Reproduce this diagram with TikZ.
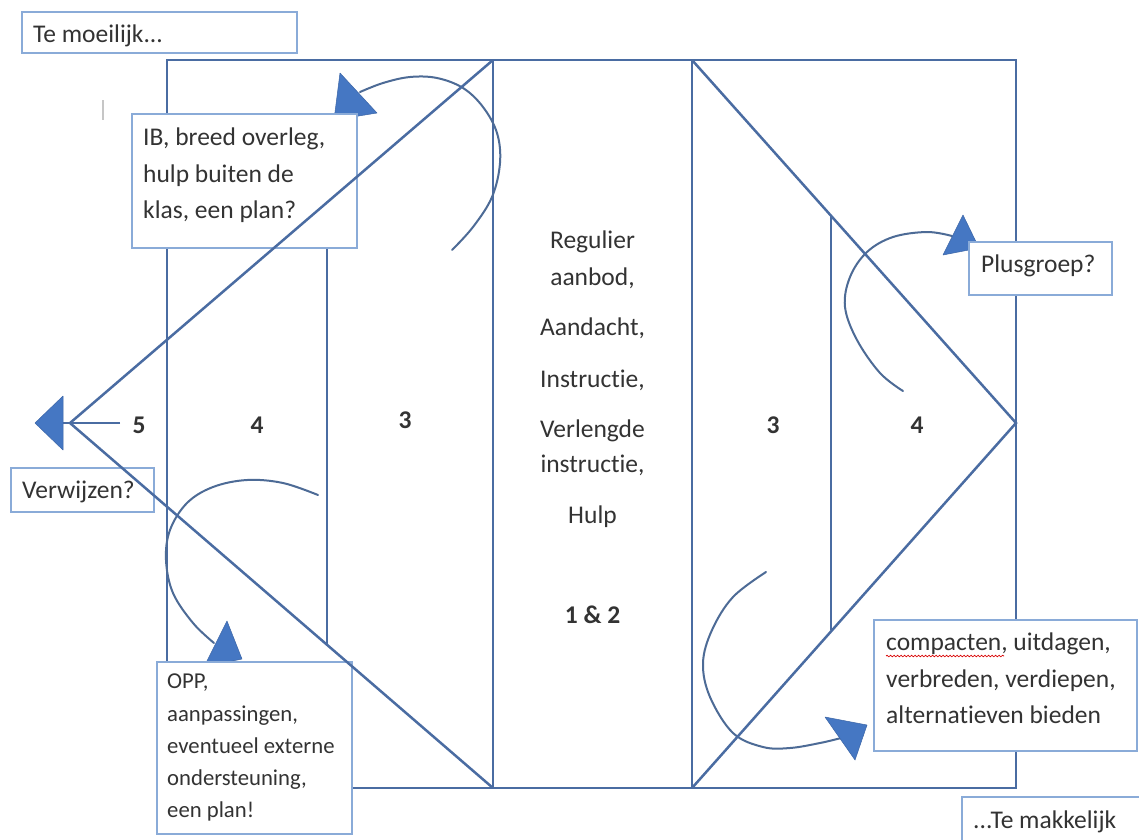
\documentclass[tikz,border=0pt]{standalone}
\usepackage{fontspec}
\setmainfont{Carlito}[Ligatures={NoCommon,NoRare}]
\usetikzlibrary{decorations.pathmorphing}
\definecolor{framec}{HTML}{4A6CA2}
\definecolor{boxc}{HTML}{8AABD8}
\definecolor{arcc}{HTML}{4D6B96}
\definecolor{headc}{HTML}{4577C3}
\definecolor{txtc}{HTML}{333333}
\begin{document}
\begin{tikzpicture}[x=1pt,y=-1pt,
  frameline/.style={draw=framec, line width=2.7pt},
  diag/.style={draw=framec, line width=2.5pt, line join=miter},
  boxstyle/.style={draw=boxc, line width=1.8pt, fill=white},
  curvestyle/.style={draw=arcc, line width=2pt, line cap=round},
  headstyle/.style={fill=headc, draw=headc!85!black, line width=0.5pt, line join=round},
  txt/.style={text=txtc, font=\fontsize{25.5}{30}\selectfont, inner sep=0pt, anchor=base west},
  smalltxt/.style={text=txtc, font=\fontsize{22.7}{27}\selectfont, inner sep=0pt, anchor=base west},
  midtxt/.style={text=txtc, font=\fontsize{25.5}{30}\selectfont, inner sep=0pt, anchor=base},
  numtxt/.style={text=txtc, font=\fontsize{25.5}{30}\selectfont\bfseries, inner sep=0pt, anchor=base}
]
\useasboundingbox (0,0) rectangle (1139,839);
\fill[white] (0,0) rectangle (1139,839);

% key points
\coordinate (TL) at (167,60);
\coordinate (BR) at (1016,788);
\coordinate (MLt) at (493,60);
\coordinate (MLb) at (493,788);
\coordinate (MRt) at (692,60);
\coordinate (MRb) at (692,788);
\coordinate (LA) at (70,423);
\coordinate (RA) at (1016,423);
\coordinate (L4t) at (327,203);
\coordinate (L4b) at (327,644);
\coordinate (R4t) at (831,216);
\coordinate (R4b) at (831,630);
\coordinate (Hend) at (120,423);
\coordinate (Hbase) at (63,423);

% frame and columns
\draw[frameline] (TL) rectangle (BR);
\draw[frameline] (MLt) -- (MLb);
\draw[frameline] (MRt) -- (MRb);
\draw[frameline] (L4t) -- (L4b);
\draw[frameline] (R4t) -- (R4b);

% cursor tick
\draw[gray!45, line width=1.5pt] (103,100) -- (103,120);

% curved arrows
\draw[curvestyle] plot[smooth, tension=0.6] coordinates {(452,250) (473,227) (492,197) (500,163) (497,133) (483,107) (463,88) (437,78) (410,77) (383,83) (360,92)};
\fill[headstyle] (340,73) -- (377,113) -- (334,120) -- cycle;

\draw[curvestyle] plot[smooth, tension=0.6] coordinates {(318,495) (283,483) (247,480) (213,487) (187,503) (170,530) (166,560) (173,593) (193,623) (214,643)};
\fill[headstyle] (227,621) -- (242,659) -- (204,667) -- cycle;

\draw[curvestyle] plot[smooth, tension=0.6] coordinates {(903,391) (880,373) (857,340) (845,307) (850,277) (867,252) (893,237) (927,232) (952,236)};
\fill[headstyle] (963,215) -- (979,248) -- (943,255) -- cycle;

\draw[curvestyle] plot[smooth, tension=0.6] coordinates {(766,572) (733,597) (712,630) (703,663) (710,697) (733,733) (763,747) (790,748) (820,743) (841,738)};
\fill[headstyle] (825,717) -- (867,725) -- (855,760) -- cycle;

% boxes
\draw[boxstyle] (22,12) rectangle (297,53);
\draw[boxstyle] (132,114) rectangle (357,248);
\draw[boxstyle] (11,468) rectangle (154,512);
\draw[boxstyle] (157,662) rectangle (352,834);
\draw[boxstyle] (969,242) rectangle (1112,295);
\draw[boxstyle] (874,620) rectangle (1137,751);
\draw[boxstyle] (962,797) rectangle (1145,845);

% diagonals
\draw[diag] (MLt) -- (LA) -- (MLb);
\draw[diag] (MRt) -- (RA) -- (MRb);
\draw[diag] (Hend) -- (Hbase);
\fill[headstyle] (35,423) -- (63,396) -- (63,450) -- cycle;

% texts
\node[txt] (tm) at (33,42) {Te moeilijk...};
\node[txt] (ib1) at (143,145) {IB, breed overleg,};
\node[txt] (ib2) at (143,182) {hulp buiten de};
\node[txt] (ib3) at (143,218) {klas, een plan?};
\node[txt] (vw) at (22,498) {Verwijzen?};
\node[smalltxt] (op1) at (167,688) {OPP,};
\node[smalltxt] (op2) at (167,721) {aanpassingen,};
\node[smalltxt] (op3) at (167,753) {eventueel externe};
\node[smalltxt] (op4) at (167,785) {ondersteuning,};
\node[smalltxt] (op5) at (167,817) {een plan!};
\node[txt] (pg) at (981,272) {Plusgroep?};
\node[txt] (cp1) at (886,650) {compacten, uitdagen,};
\node[txt] (cp2) at (886,687) {verbreden, verdiepen,};
\node[txt] (cp3) at (886,723) {alternatieven bieden};
\node[txt] (tk) at (973,828) {...Te makkelijk};
\draw[red!85!black, line width=0.7pt, decorate, decoration={snake, amplitude=0.8pt, segment length=3.5pt}] (886,656) -- (1004,656);

\node[midtxt] (m1) at (592.5,248) {Regulier};
\node[midtxt] (m2) at (592.5,285) {aanbod,};
\node[midtxt] (m3) at (592.5,335) {Aandacht,};
\node[midtxt] (m4) at (592.5,387) {Instructie,};
\node[midtxt] (m5) at (592.5,437) {Verlengde};
\node[midtxt] (m6) at (592.5,472) {instructie,};
\node[midtxt] (m7) at (592.5,523) {Hulp};
\node[numtxt] (m8) at (592.5,623) {1 \& 2};

\node[numtxt] (n5) at (139,433) {5};
\node[numtxt] (n4l) at (257,433) {4};
\node[numtxt] (n3l) at (405,428) {3};
\node[numtxt] (n3r) at (773,433) {3};
\node[numtxt] (n4r) at (917,433) {4};
\end{tikzpicture}
\end{document}
